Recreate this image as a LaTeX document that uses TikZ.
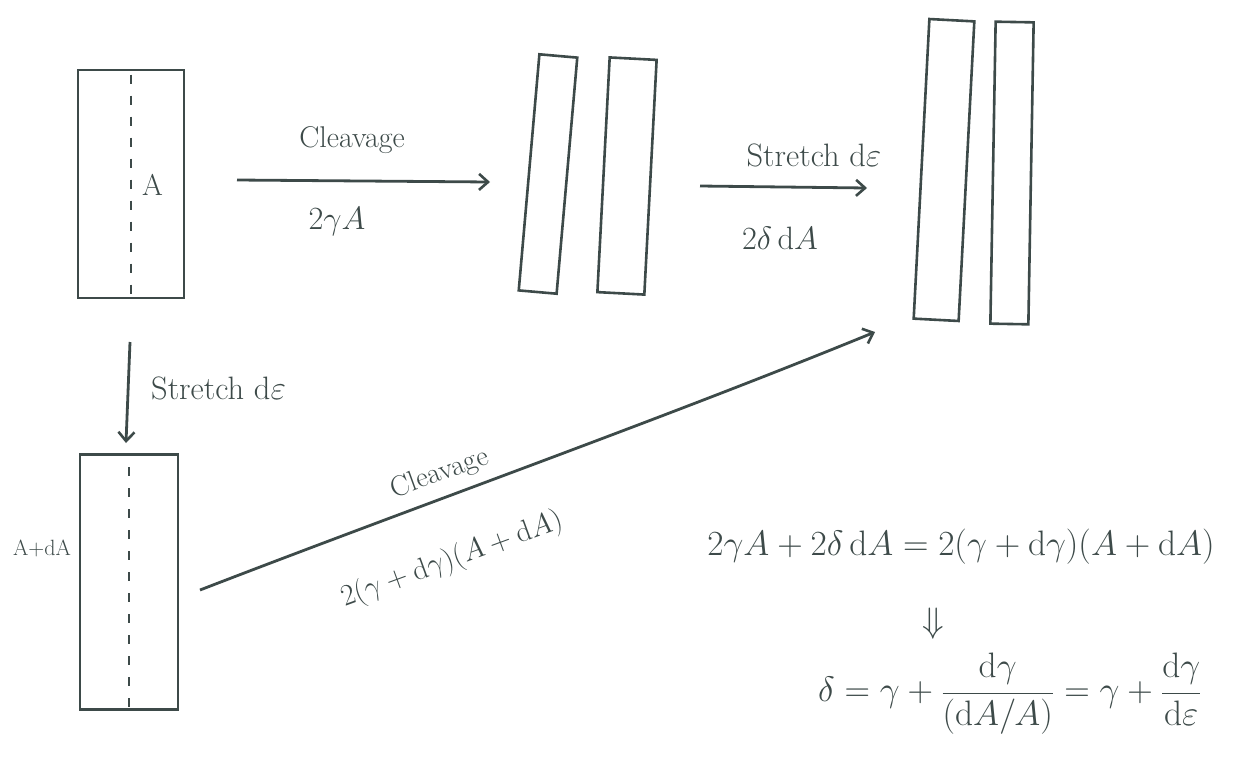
\documentclass[tikz,border=0pt]{standalone}
\usetikzlibrary{arrows.meta}
\definecolor{ink}{HTML}{3D4A49}
\newcommand{\mysz}[2]{\scalebox{#1}{\fontsize{24}{28}\selectfont #2}}
\begin{document}
\begin{tikzpicture}[x=1pt,y=-1pt,
  every node/.style={text=ink},
  box/.style={draw=ink,line width=2.8pt,minimum width=#1,inner sep=0pt},
  strip/.style={draw=ink,line width=2.6pt,inner sep=0pt},
  conn/.style={draw=ink,line width=2.8pt,-{Straight Barb[length=9pt,width=16pt,line width=2.6pt]}},
  cut/.style={draw=ink,line width=2.4pt,dash pattern=on 9pt off 12pt},
  lbl/.style={inner sep=1pt},
]
\useasboundingbox (0,0) rectangle (1233,761);
% top-left block
\node[box=106pt,minimum height=228pt] (b0) at (131,184) {};
\draw[cut] (b0.north) ++(0,6) -- ([yshift=-4pt]b0.south);
\node[lbl,anchor=west] (la) at (141,185) {\mysz{1.25}{A}};
% cleaved strips
\node[strip,minimum width=38pt,minimum height=237pt,rotate=-5] (s1) at (548,174) {};
\node[strip,minimum width=47pt,minimum height=235pt,rotate=-3] (s2) at (627,176) {};
% stretched strips
\node[strip,minimum width=45pt,minimum height=300pt,rotate=-3] (s3) at (944,170) {};
\node[strip,minimum width=38pt,minimum height=302pt,rotate=-1] (s4) at (1012,173) {};
% bottom-left block
\node[box=98pt,minimum height=255pt] (b1) at (129,582) {};
\draw[cut] (b1.north) ++(0,14) -- ([yshift=-4pt]b1.south);
\node[lbl] (lad) at (42,548) {\mysz{0.92}{A+dA}};
% arrows
\coordinate (c1) at (237,180);
\coordinate (c2) at (490,182);
\draw[conn] (c1) -- (c2);
\node[lbl] (t1) at (352,140) {\mysz{1.25}{Cleavage}};
\node[lbl] (t2) at (337,222) {\mysz{1.3}{$2\gamma A$}};
\coordinate (c3) at (700,186);
\coordinate (c4) at (867,188);
\draw[conn] (c3) -- (c4);
\node[lbl] (t3) at (814,155) {\mysz{1.35}{Stretch d$\varepsilon$}};
\node[lbl] (t4) at (780,238) {\mysz{1.3}{$2\delta\,\mathrm{d}A$}};
\coordinate (c5) at (130,342);
\coordinate (c6) at (126,443);
\draw[conn] (c5) -- (c6);
\node[lbl,anchor=west] (t5) at (150,388) {\mysz{1.35}{Stretch d$\varepsilon$}};
\coordinate (c7) at (200,590);
\coordinate (c8) at (875,332);
\draw[conn] (c7) .. controls (420,505) and (660,420) .. (c8);
\node[lbl,rotate=20] (t6) at (440,474) {\mysz{1.2}{Cleavage}};
\node[lbl,rotate=20] (t7) at (452,560) {\mysz{1.2}{$2(\gamma+\mathrm{d}\gamma)(A+\mathrm{d}A)$}};
% equations
\node[lbl] (e1) at (961,547) {\mysz{1.42}{$2\gamma A+2\delta\,\mathrm{d}A=2(\gamma+\mathrm{d}\gamma)(A+\mathrm{d}A)$}};
\node[lbl] (e2) at (933,624) {\mysz{1.42}{$\Downarrow$}};
\node[lbl] (e3) at (1010,694) {\mysz{1.42}{$\displaystyle\delta=\gamma+\frac{\mathrm{d}\gamma}{(\mathrm{d}A/A)}=\gamma+\frac{\mathrm{d}\gamma}{\mathrm{d}\varepsilon}$}};
\end{tikzpicture}
\end{document}
